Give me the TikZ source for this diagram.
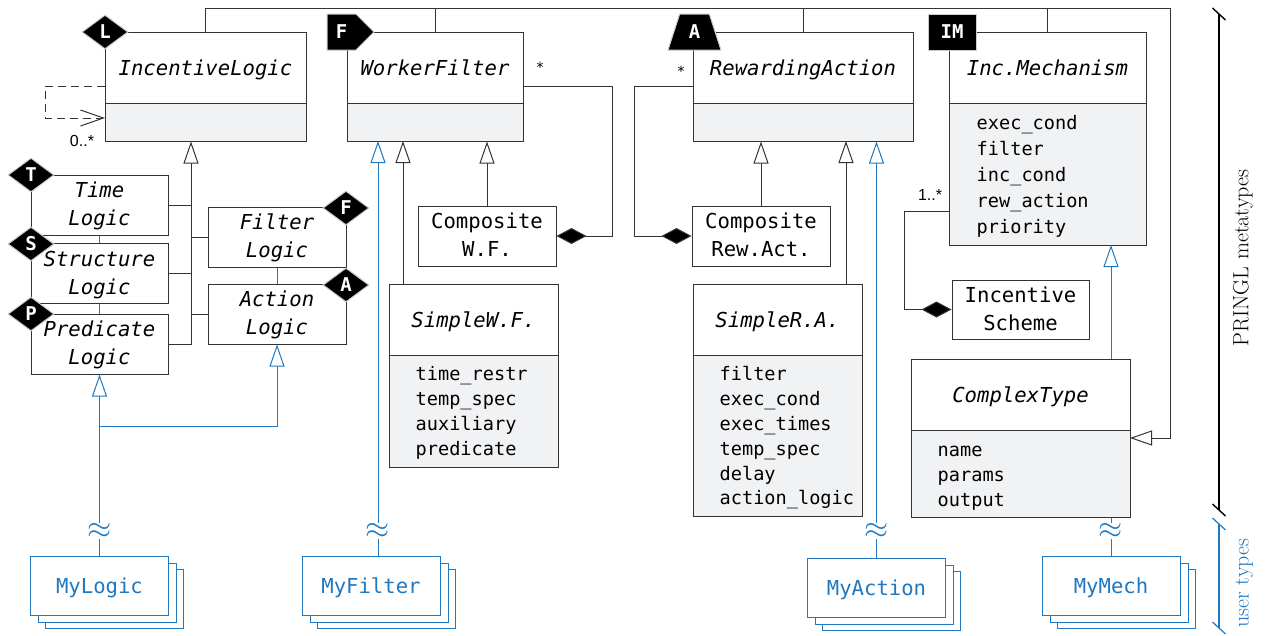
\documentclass[tikz,border=0pt]{standalone}
\usepackage{fontspec}
\setmonofont{DejaVu Sans Mono}
\setsansfont{Liberation Sans}
\usetikzlibrary{arrows.meta,positioning,shadows,shapes.geometric,shapes.symbols}
\definecolor{userblue}{HTML}{1F78C0}
\definecolor{slotgray}{HTML}{F1F2F4}
\tikzset{
  umlhead/.style = {rectangle, draw=black!80, line width=1pt, fill=white, align=center,
    inner sep=0pt, font=\fontsize{20.6pt}{28pt}\ttfamily\itshape,
    text height=20pt, text depth=5pt},
  umltwo/.style = {text height=46pt, text depth=5pt},
  umlbody/.style = {rectangle, draw=black!80, line width=1pt, fill=slotgray, inner sep=0pt},
  umlattr/.style = {align=left, inner sep=0pt,
    font=\fontsize{18.6pt}{24.8pt}\ttfamily},
  umlplain/.style = {umlhead, umltwo, font=\fontsize{20.6pt}{28pt}\ttfamily},
  userbox/.style = {rectangle, draw=userblue, line width=1pt, fill=white, inner sep=0pt,
    text=userblue, font=\fontsize{20.6pt}{28pt}\ttfamily,
    text height=20pt, text depth=5pt,
    minimum width=138pt, minimum height=59pt,
    copy shadow={shadow xshift=15pt, shadow yshift=-13pt, draw=userblue, fill=white},
    copy shadow={shadow xshift=8pt, shadow yshift=-7pt, draw=userblue, fill=white}},
  badge/.style = {fill=black, draw=black!20, line width=1pt, text=white, inner sep=0pt,
    font=\fontsize{19pt}{20pt}\ttfamily\bfseries},
  badgediam/.style = {badge, diamond, aspect=1.35, minimum width=46pt, minimum height=34pt},
  wavy/.style = {fill=white, inner sep=0pt, text=userblue, scale=1.25,
    font=\fontsize{24pt}{24pt}\selectfont},
  cardlabel/.style = {inner sep=0pt, font=\fontsize{16pt}{18pt}\sffamily},
  sidelabel/.style = {rotate=90, inner sep=0pt, font=\fontsize{22pt}{24pt}\selectfont},
  line/.style = {draw=black!80, line width=1pt},
  isa/.style = {line, -{Triangle[open, length=22pt, width=15pt, fill=white]}},
  userisa/.style = {isa, draw=userblue},
  userline/.style = {draw=userblue, line width=1pt},
  compof/.style = {line, {Diamond[length=30pt, width=16pt, fill=black]}-}
}
\begin{document}
\begin{tikzpicture}[x=1pt,y=-1pt]
  \useasboundingbox (0,0) rectangle (1269,635);

  \coordinate (busright) at (1170,8);
  \coordinate (ctypetip) at (1130,438);
  \coordinate (logichub) at (191,141.5);
  \coordinate (wfout) at (523,86);
  \coordinate (raout) at (693,86);
  \coordinate (imout) at (949,211);
  \coordinate (loopout) at (105,86);
  \coordinate (loopin) at (105,118);
  \coordinate (userjoin) at (99.5,426);

  % metatype boxes
  \node [umlhead, minimum width=201pt, minimum height=71pt] (ilogic) at (205.5,67.5) {IncentiveLogic};
  \node [umlbody, minimum width=201pt, minimum height=38pt] (ilogicb) at (205.5,122) {};
  \node [umlhead, minimum width=176pt, minimum height=71pt] (wfilter) at (435,67.5) {WorkerFilter};
  \node [umlbody, minimum width=176pt, minimum height=38pt] (wfilterb) at (435,122) {};
  \node [umlhead, minimum width=220pt, minimum height=71pt] (raction) at (803,67.5) {RewardingAction};
  \node [umlbody, minimum width=220pt, minimum height=38pt] (ractionb) at (803,122) {};
  \node [umlhead, minimum width=197pt, minimum height=71pt] (imech) at (1047.5,67.5) {Inc.Mechanism};
  \node [umlbody, minimum width=197pt, minimum height=142pt] (imechb) at (1047.5,174) {};
  \node [umlattr, font=\fontsize{18.6pt}{26pt}\ttfamily, right=28pt of imechb.west, yshift=-2pt] (imecha) {exec\_cond\\filter\\inc\_cond\\rew\_action\\priority};

  % logic boxes
  \node [umlhead, umltwo, minimum width=137pt, minimum height=60pt] (tlogic) at (99.5,205) {Time\\Logic};
  \node [umlhead, umltwo, minimum width=137pt, minimum height=60pt] (slogic) at (99.5,273.5) {Structure\\Logic};
  \node [umlhead, umltwo, minimum width=137pt, minimum height=60pt] (plogic) at (99.5,344) {Predicate\\Logic};
  \node [umlhead, umltwo, minimum width=138pt, minimum height=60pt] (flogic) at (277,237) {Filter\\Logic};
  \node [umlhead, umltwo, minimum width=138pt, minimum height=60pt] (alogic) at (277,314) {Action\\Logic};

  % composites and simple kinds
  \node [umlplain, minimum width=138pt, minimum height=60pt] (cwf) at (487,236) {Composite\\W.F.};
  \node [umlhead, minimum width=169pt, minimum height=71pt] (swf) at (473.5,319.5) {SimpleW.F.};
  \node [umlbody, minimum width=169pt, minimum height=112pt] (swfb) at (473.5,411) {};
  \node [umlattr, right=27pt of swfb.west, yshift=-2pt] (swfa) {time\_restr\\temp\_spec\\auxiliary\\predicate};
  \node [umlplain, minimum width=138pt, minimum height=60pt] (cra) at (761,236) {Composite\\Rew.Act.};
  \node [umlhead, minimum width=169pt, minimum height=71pt] (sra) at (777.5,319.5) {SimpleR.A.};
  \node [umlbody, minimum width=169pt, minimum height=161pt] (srab) at (777.5,435.5) {};
  \node [umlattr, right=27pt of srab.west, yshift=-2.5pt] (sraa) {filter\\exec\_cond\\exec\_times\\temp\_spec\\delay\\action\_logic};
  \node [umlplain, minimum width=137pt, minimum height=59pt] (ischeme) at (1020.5,309.5) {Incentive\\Scheme};
  \node [umlhead, minimum width=219pt, minimum height=71pt] (ctype) at (1020.5,394.5) {ComplexType};
  \node [umlbody, minimum width=219pt, minimum height=87pt] (ctypeb) at (1020.5,473.5) {};
  \node [umlattr, right=27pt of ctypeb.west, yshift=-4.5pt] (ctypea) {name\\params\\output};

  % user types
  \node [userbox] (mylogic) at (99.5,585.5) {MyLogic};
  \node [userbox] (myfilter) at (371,585.5) {MyFilter};
  \node [userbox] (myaction) at (876.5,587.5) {MyAction};
  \node [userbox] (mymech) at (1111,585.5) {MyMech};

  % bus on top
  \draw [line] (ilogic.north) |- (busright);
  \draw [line] (wfilter.north) -- (wfilter.north |- busright);
  \draw [line] (raction.north) -- (raction.north |- busright);
  \draw [line] (imech.north) -- (imech.north |- busright);
  \draw [isa] (busright) |- (ctypetip);

  % logic hierarchy
  \draw [isa] (plogic.east) -| (logichub);
  \draw [line] (tlogic.east) -- (tlogic.east -| logichub);
  \draw [line] (slogic.east) -- (slogic.east -| logichub);
  \draw [line] (flogic.west) -- (flogic.west -| logichub);
  \draw [line] (alogic.west) -- (alogic.west -| logichub);
  \draw [userline] (tlogic.south) -- (slogic.north);
  \draw [userline] (slogic.south) -- (plogic.north);
  \draw [userline] (flogic.south) -- (alogic.north);
  \draw [line, dash pattern=on 8pt off 5pt, -{Straight Barb[length=23pt, width=16pt]}] (loopout) -- ++(-60,0) |- (loopin);

  % worker filter and rewarding action
  \draw [isa] (cwf.north) -- (cwf.north |- wfilterb.south);
  \draw [isa] (swf.north -| 403,0) -- (403,141);
  \draw [isa] (cra.north) -- (cra.north |- ractionb.south);
  \draw [isa] (sra.north -| 846,0) -- (846,141);
  \draw [compof] (cwf.east) -- ++(56,0) |- (wfout);
  \draw [compof] (cra.west) -- ++(-57,0) |- (raout);
  \draw [compof] (ischeme.west) -- ++(-47,0) |- (imout);

  % user links
  \draw [userisa] (mylogic.north) -- (plogic.south);
  \draw [userisa] (userjoin) -| (alogic.south);
  \draw [userisa] (myfilter.north -| 378,0) -- (378,141);
  \draw [userisa] (myaction.north) -- (myaction.north |- ractionb.south);
  \draw [userisa] (ctype.north -| 1111,0) -- (1111,245);
  \draw [userline] (mymech.north) -- (mymech.north |- ctypeb.south);
  \node [wavy] (wavelogic) at (99.5,531) {$\approx$};
  \node [wavy] (wavefilter) at (378,531) {$\approx$};
  \node [wavy] (waveaction) at (876.5,531) {$\approx$};
  \node [wavy] (wavemech) at (1111,531) {$\approx$};

  % badges
  \node [badgediam] (blogic) at (105,32) {L};
  \node [badge, signal, signal to=east, signal from=nowhere, minimum width=47pt, minimum height=36pt] (bfilter) at (341.5,32) {F};
  \node [badge, trapezium, trapezium stretches=true, trapezium left angle=72, trapezium right angle=72, minimum width=53pt, minimum height=36pt] (baction) at (694.5,32) {A};
  \node [badge, rectangle, minimum width=48pt, minimum height=36pt] (bmech) at (952,32) {IM};
  \node [badgediam] (btime) at (31,175) {T};
  \node [badgediam] (bstruct) at (31,244) {S};
  \node [badgediam] (bpred) at (31,314) {P};
  \node [badgediam] (bfilt) at (346,208) {F};
  \node [badgediam] (bact) at (346,285) {A};

  % cardinalities
  \node [cardlabel] (cardloop) at (82,141) {0..*};
  \node [cardlabel] (cardmech) at (930,195) {1..*};
  \node [cardlabel, font=\fontsize{14pt}{16pt}\ttfamily] (cardwf) at (540,67) {*};
  \node [cardlabel, font=\fontsize{14pt}{16pt}\ttfamily] (cardra) at (681,71) {*};

  % side scales
  \coordinate (metatop) at (1219,14);
  \coordinate (metabot) at (1219,510);
  \coordinate (usertop) at (1219,524);
  \coordinate (userbot) at (1219,628);
  \draw [line width=1.4pt, black] (metatop) -- (metabot);
  \draw [line width=1.4pt, black] (metatop) ++(-6.5,-6) -- ++(13,12);
  \draw [line width=1.4pt, black] (metabot) ++(-6.5,-6) -- ++(13,12);
  \draw [line width=1.2pt, userblue] (usertop) -- (userbot);
  \draw [line width=1.2pt, userblue] (usertop) ++(-6.5,-6) -- ++(13,12);
  \draw [line width=1.2pt, userblue] (userbot) ++(-6.5,-6) -- ++(13,12);
  \node [sidelabel] (metalabel) at (1243,258) {PRINGL metatypes};
  \node [sidelabel, text=userblue] (userlabel) at (1244,583) {user types};
\end{tikzpicture}
\end{document}
